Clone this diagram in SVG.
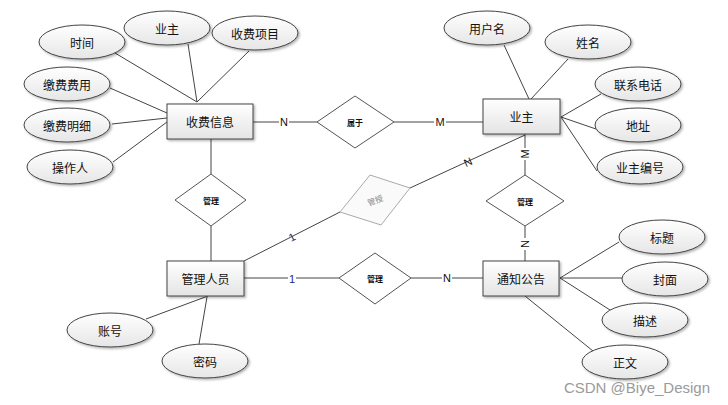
<svg xmlns="http://www.w3.org/2000/svg" width="728" height="405" viewBox="0 0 728 405">
<defs>
<linearGradient id="gE" x1="0" y1="0" x2="0" y2="1"><stop offset="0" stop-color="#ffffff"/><stop offset="1" stop-color="#e6e6e6"/></linearGradient>
<linearGradient id="gR" x1="0" y1="0" x2="0" y2="1"><stop offset="0" stop-color="#ffffff"/><stop offset="1" stop-color="#e4e4e4"/></linearGradient>
<filter id="sh" x="-10%" y="-10%" width="130%" height="140%"><feDropShadow dx="1.5" dy="1.5" stdDeviation="0.8" flood-color="#000" flood-opacity="0.3"/></filter>
</defs>
<style>
.e{fill:url(#gE);stroke:#444;stroke-width:1;filter:url(#sh)}
.r{fill:url(#gR);stroke:#444;stroke-width:1;filter:url(#sh)}
.d{fill:#fff;stroke:#555;stroke-width:1}
.dg{fill:#fafafa;stroke:#aaa;stroke-width:1}
.t{font-family:"Noto Sans CJK SC","Liberation Sans",sans-serif;font-size:12px;fill:#111;text-anchor:middle;dominant-baseline:central}
.ts{font-family:"Noto Sans CJK SC","Liberation Sans",sans-serif;font-size:8px;font-weight:bold;fill:#111;text-anchor:middle;dominant-baseline:central}
.l{stroke:#444;stroke-width:1;fill:none}
.lb{font-family:"Liberation Sans",sans-serif;font-size:11px;fill:#111;text-anchor:middle;dominant-baseline:central}
.lb1{font-family:"Liberation Sans",sans-serif;font-size:11px;fill:#1a2a80;text-anchor:middle;dominant-baseline:central}
.bg{fill:#fff}
</style>
<rect width="728" height="405" fill="#fff"/>
<g id="connectors">
<line class="l" x1="115" y1="53" x2="197" y2="102"/>
<line class="l" x1="188" y1="44" x2="197" y2="102"/>
<line class="l" x1="249" y1="51" x2="197" y2="102"/>
<line class="l" x1="110" y1="88" x2="167" y2="113"/>
<line class="l" x1="112" y1="124" x2="167" y2="118"/>
<line class="l" x1="113" y1="162" x2="167" y2="122"/>
<line class="l" x1="253" y1="122" x2="317" y2="122"/>
<line class="l" x1="394" y1="122" x2="483" y2="122"/>
<line class="l" x1="504" y1="45" x2="529" y2="99"/>
<line class="l" x1="568" y1="59" x2="531" y2="99"/>
<line class="l" x1="601" y1="94" x2="561" y2="117"/>
<line class="l" x1="596" y1="129" x2="561" y2="117"/>
<line class="l" x1="597" y1="171" x2="561" y2="117"/>
<line class="l" x1="525" y1="134" x2="525" y2="175"/>
<line class="l" x1="525" y1="135" x2="410" y2="188"/>
<line class="l" x1="340" y1="212" x2="244" y2="261"/>
<line class="l" x1="211" y1="139" x2="211" y2="174"/>
<line class="l" x1="211" y1="226" x2="211" y2="261"/>
<line class="l" x1="244" y1="278" x2="339" y2="278"/>
<line class="l" x1="411" y1="278" x2="483" y2="278"/>
<line class="l" x1="525" y1="226" x2="525" y2="261"/>
<line class="l" x1="560" y1="278" x2="619" y2="242"/>
<line class="l" x1="560" y1="278" x2="622" y2="278"/>
<line class="l" x1="560" y1="278" x2="610" y2="310"/>
<line class="l" x1="525" y1="296" x2="593" y2="351"/>
<line class="l" x1="146" y1="319" x2="208" y2="296"/>
<line class="l" x1="199" y1="344" x2="207" y2="297"/>
<rect class="bg" x="279" y="116" width="10" height="12"/><text class="lb" x="284" y="122">N</text>
<rect class="bg" x="434" y="116" width="12" height="12"/><text class="lb" x="440" y="122">M</text>
<rect class="bg" x="519" y="148" width="12" height="12"/><text class="lb" x="525" y="154" transform="rotate(-90 525 154)">M</text>
<rect class="bg" x="519" y="238" width="12" height="12"/><text class="lb" x="525" y="244" transform="rotate(90 525 244)">N</text>
<rect class="bg" x="442" y="272" width="10" height="12"/><text class="lb" x="447" y="278">N</text>
<rect class="bg" x="288" y="272" width="8" height="12"/><text class="lb1" x="292" y="279">1</text>
<text class="lb1" x="292" y="237" transform="rotate(-27 292 237)">1</text>
<text class="lb" x="468" y="162" transform="rotate(-25 468 162)">N</text>
</g>
<g id="shoufeixinxi"><rect class="r" x="167" y="104" width="86" height="35"/><text class="t" x="210" y="121.5">收费信息</text></g>
<g id="yezhu"><rect class="r" x="483" y="99" width="77" height="35"/><text class="t" x="521.5" y="116.5">业主</text></g>
<g id="guanlirenyuan"><rect class="r" x="167" y="261" width="77" height="35"/><text class="t" x="205.5" y="278.5">管理人员</text></g>
<g id="tongzhigonggao"><rect class="r" x="483" y="261" width="76" height="35"/><text class="t" x="521" y="278.5">通知公告</text></g>
<g id="shuyu"><polygon class="d" points="317,122 355,96 394,122 355,148"/><text class="ts" x="355" y="122">属于</text></g>
<g id="guanli1"><polygon class="d" points="175,200 211,174 246,200 211,226"/><text class="ts" x="211" y="200">管理</text></g>
<g id="guanli2"><polygon class="d" points="486,201 525,175 564,201 525,226"/><text class="ts" x="525" y="201">管理</text></g>
<g id="guanli3"><polygon class="d" points="339,278 375,253 411,278 375,304"/><text class="ts" x="375" y="278">管理</text></g>
<g id="guanshou"><polygon class="dg" points="370,175 410,188 381,225 340,212"/><text class="ts" x="375" y="200" style="fill:#888;font-weight:normal" transform="rotate(-20 375 200)">管授</text></g>
<g id="shijian"><ellipse class="e" cx="82" cy="42" rx="43" ry="17"/><text class="t" x="82" y="42">时间</text></g>
<g id="yezhu-attr"><ellipse class="e" cx="167" cy="28" rx="43" ry="17"/><text class="t" x="167" y="28">业主</text></g>
<g id="shoufeixiangmu"><ellipse class="e" cx="255" cy="33" rx="43" ry="17"/><text class="t" x="255" y="33">收费项目</text></g>
<g id="jiaofeifeiyong"><ellipse class="e" cx="67" cy="84" rx="43" ry="17"/><text class="t" x="67" y="84">缴费费用</text></g>
<g id="jiaofeimingxi"><ellipse class="e" cx="67" cy="125" rx="43" ry="17"/><text class="t" x="67" y="125">缴费明细</text></g>
<g id="caozuoren"><ellipse class="e" cx="70" cy="167" rx="43" ry="17"/><text class="t" x="70" y="167">操作人</text></g>
<g id="yonghuming"><ellipse class="e" cx="487" cy="28" rx="43" ry="17"/><text class="t" x="487" y="28">用户名</text></g>
<g id="xingming"><ellipse class="e" cx="588" cy="42" rx="43" ry="17"/><text class="t" x="588" y="42">姓名</text></g>
<g id="lianxidianhua"><ellipse class="e" cx="638" cy="84" rx="43" ry="17"/><text class="t" x="638" y="84">联系电话</text></g>
<g id="dizhi"><ellipse class="e" cx="638" cy="125" rx="43" ry="17"/><text class="t" x="638" y="125">地址</text></g>
<g id="yezhubianhao"><ellipse class="e" cx="640" cy="167" rx="43" ry="17"/><text class="t" x="640" y="167">业主编号</text></g>
<g id="biaoti"><ellipse class="e" cx="662" cy="237" rx="43" ry="17"/><text class="t" x="662" y="237">标题</text></g>
<g id="fengmian"><ellipse class="e" cx="665" cy="279" rx="43" ry="17"/><text class="t" x="665" y="279">封面</text></g>
<g id="miaoshu"><ellipse class="e" cx="645" cy="320" rx="43" ry="17"/><text class="t" x="645" y="320">描述</text></g>
<g id="zhengwen"><ellipse class="e" cx="625" cy="362" rx="43" ry="17"/><text class="t" x="625" y="362">正文</text></g>
<g id="zhanghao"><ellipse class="e" cx="110" cy="330" rx="43" ry="17"/><text class="t" x="110" y="330">账号</text></g>
<g id="mima"><ellipse class="e" cx="205" cy="361" rx="43" ry="17"/><text class="t" x="205" y="361">密码</text></g>
<text x="637" y="387" style="font-family:'Liberation Sans',sans-serif;font-size:15px;fill:#9a9a9a;text-anchor:middle;dominant-baseline:central">CSDN @Biye_Design</text>
</svg>
